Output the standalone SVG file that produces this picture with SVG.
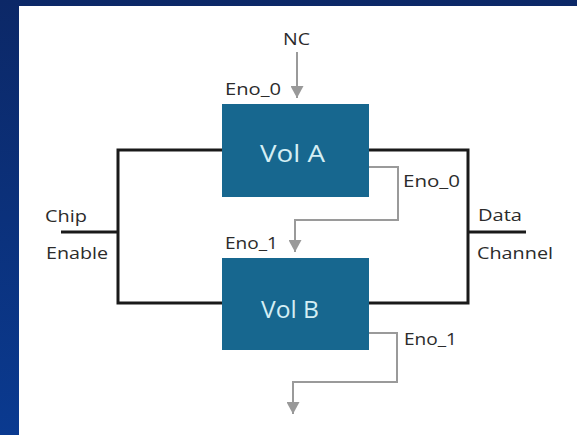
<svg xmlns="http://www.w3.org/2000/svg" width="577" height="435" viewBox="0 0 577 435">
<defs>
<linearGradient id="bg" x1="0" y1="0" x2="0" y2="1">
<stop offset="0" stop-color="#0c2867"/>
<stop offset="1" stop-color="#0a3a90"/>
</linearGradient>
<marker id="ah" markerUnits="userSpaceOnUse" markerWidth="13" markerHeight="13" refX="12" refY="6.5" orient="auto" viewBox="0 0 13 13">
<path d="M0,0 L12,6.5 L0,13 z" fill="#999999"/>
</marker>
<style>
.lbl{font-family:"Open Sans","Noto Sans",sans-serif;font-size:17px;fill:#2b2b2b}
.vol{font-family:"Open Sans","Noto Sans",sans-serif;font-size:23px;fill:#d4eef4}
.box{fill:#17678f}
.bus{fill:none;stroke:#1a1a1a;stroke-width:3}
.en{fill:none;stroke:#9a9a9a;stroke-width:2}
</style>
</defs>
<rect x="0" y="0" width="577" height="435" fill="url(#bg)"/>
<rect x="19" y="6" width="558" height="429" fill="#ffffff"/>
<g id="connectors">
<polyline class="bus" points="222,150 118,150 118,303 222,303"/>
<line class="bus" x1="61" y1="232" x2="118" y2="232"/>
<polyline class="bus" points="369,150 468,150 468,303 369,303"/>
<line class="bus" x1="468" y1="232" x2="526" y2="232"/>
<line class="en" x1="297" y1="52" x2="297" y2="98" marker-end="url(#ah)"/>
<polyline class="en" points="369,167 398,167 398,220 295,220 295,252" marker-end="url(#ah)"/>
<polyline class="en" points="369,333 397,333 397,382 293,382 293,414" marker-end="url(#ah)"/>
</g>
<g id="volA">
<rect class="box" x="222" y="104" width="147" height="93"/>
<text class="vol" x="260" y="162" textLength="65" lengthAdjust="spacingAndGlyphs">Vol A</text>
</g>
<g id="volB">
<rect class="box" x="222" y="258" width="147" height="92"/>
<text class="vol" x="261" y="318" textLength="58" lengthAdjust="spacingAndGlyphs">Vol B</text>
</g>
<g id="labels">
<text class="lbl" x="283" y="45" textLength="27" lengthAdjust="spacingAndGlyphs">NC</text>
<text class="lbl" x="225" y="95" textLength="56" lengthAdjust="spacingAndGlyphs">Eno_0</text>
<text class="lbl" x="403" y="187" textLength="57" lengthAdjust="spacingAndGlyphs">Eno_0</text>
<text class="lbl" x="225" y="249" textLength="53" lengthAdjust="spacingAndGlyphs">Eno_1</text>
<text class="lbl" x="404" y="345" textLength="53" lengthAdjust="spacingAndGlyphs">Eno_1</text>
<text class="lbl" x="45" y="222" textLength="42" lengthAdjust="spacingAndGlyphs">Chip</text>
<text class="lbl" x="46" y="259" textLength="62" lengthAdjust="spacingAndGlyphs">Enable</text>
<text class="lbl" x="478" y="221" textLength="44" lengthAdjust="spacingAndGlyphs">Data</text>
<text class="lbl" x="477" y="259" textLength="76" lengthAdjust="spacingAndGlyphs">Channel</text>
</g>
</svg>
